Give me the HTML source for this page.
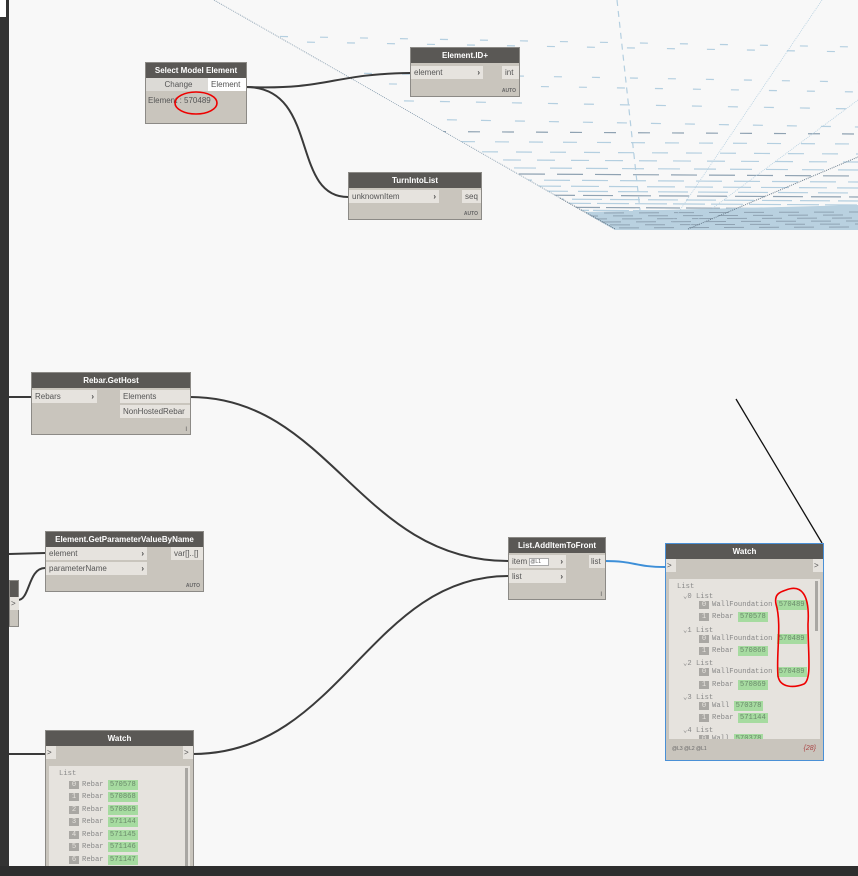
<!DOCTYPE html>
<html><head><meta charset="utf-8">
<style>
*{margin:0;padding:0;box-sizing:border-box}
body{width:858px;height:876px;overflow:hidden;background:#f8f8f8;position:relative;font-family:"Liberation Sans",sans-serif;font-size:8px;color:#555}
.n{position:absolute;background:#c9c5bd;border:1px solid #8c8a86}
.h{background:#5a5855;color:#fff;font-weight:bold;text-align:center;height:15px;line-height:15px;font-size:8px}
.p{position:absolute;background:#e6e3de;height:13px;line-height:13px;padding-left:3px;color:#555;font-size:8px}
.ar{position:absolute;right:3px;top:0;font-weight:bold;color:#444}
.auto{position:absolute;right:3px;bottom:2px;font-size:5px;color:#666;font-weight:bold}
.mono{font-family:"Liberation Mono",monospace;font-size:7.2px;color:#888;position:absolute;white-space:nowrap}
.ix{display:inline-block;background:#a9a7a3;color:#e6e3de;width:10px;text-align:center;margin-right:3px}
.v{display:inline-block;background:#a6dba0;color:#6a8a6a;padding:0 2px;line-height:10px}
</style></head><body>
<svg width="858" height="876" style="position:absolute;left:0;top:0">
<defs><clipPath id="c"><polygon points="214,0 858,0 858,230 615,230"/></clipPath></defs>
<g id="mesh" clip-path="url(#c)"></g>
<line x1="214" y1="0" x2="560" y2="198" stroke="#7d95a8" stroke-width="0.8" stroke-dasharray="1,1"/>
<line x1="560" y1="198" x2="615" y2="229" stroke="#5d7080" stroke-width="1" stroke-dasharray="1,1"/>
<line x1="688" y1="229" x2="858" y2="157" stroke="#6a7d8d" stroke-width="1" stroke-dasharray="1,1"/>
<g fill="none" stroke="#3a3a3a" stroke-width="2">
<path d="M246,87 C330,90 330,74 410,73"/>
<path d="M246,87 C320,87 290,197 348,197"/>
<path d="M190,397 C330,397 360,561 508,561"/>
<path d="M193,754 C340,754 370,576 508,576"/>
<path d="M9,397 L31,397"/>
<path d="M9,554 L45,553"/>
<path d="M18,600 C30,600 28,568 45,568"/>
<path d="M9,754 L45,754"/>
</g>
<path d="M605,561 C635,561 635,567 665,567" fill="none" stroke="#3d8fd8" stroke-width="2"/>
<line x1="736" y1="399" x2="822" y2="543" stroke="#111" stroke-width="1.3"/>
</svg>
<script>
(function(){var g=document.getElementById('mesh'),s='';
var rows=[[35,8,32,'#b4cfe0'],[40,8,32,'#b4cfe0'],[70,8,30,'#b4cfe0'],[80,8,30,'#b4cfe0'],[97,10,26,'#b4cfe0'],[115,10,24,'#b4cfe0'],[130,12,22,'#8fa2b2'],[140,14,20,'#b4cfe0'],[150,16,18,'#b4cfe0'],[158,18,16,'#b4cfe0'],[166,22,14,'#b4cfe0'],[172,26,12,'#8fa2b2'],[178,26,12,'#b4cfe0'],[184,28,10,'#b4cfe0'],[189,30,10,'#b4cfe0'],[193,30,8,'#8fa2b2'],[197,30,8,'#b4cfe0'],[201,32,6,'#b4cfe0'],[205,34,6,'#8fa2b2'],[208,36,4,'#b4cfe0']];
rows.forEach(function(r,i){var off=(i*13)%40;s+='<line x1="'+(200-off)+'" y1="'+r[0]+'" x2="858" y2="'+(r[0]+(r[0]<120?12:4))+'" stroke="'+r[3]+'" stroke-width="1.2" stroke-dasharray="'+r[1]+','+r[2]+'"/>';});
s+='<polygon points="585,212 858,205 858,230 600,230" fill="#b9d1e0"/>';
for(var y=213;y<230;y+=3){s+='<line x1="590" y1="'+y+'" x2="858" y2="'+(y-1)+'" stroke="#8fa2b2" stroke-width="1" stroke-dasharray="20,15" stroke-dashoffset="'+(y*7%30)+'"/>';}
s+='<line x1="617" y1="0" x2="640" y2="210" stroke="#b4cfe0" stroke-width="1.2" stroke-dasharray="6,5"/>';
s+='<line x1="822" y1="0" x2="670" y2="225" stroke="#b4cfe0" stroke-width="0.8" stroke-dasharray="1,1"/>';
s+='<line x1="858" y1="100" x2="690" y2="225" stroke="#b4cfe0" stroke-width="0.8" stroke-dasharray="1,1"/>';
g.innerHTML=s;})();
</script>
<div style="position:absolute;left:0;top:0;width:9px;height:866px;background:#333"></div>
<div style="position:absolute;left:0;top:0;width:6px;height:17px;background:#fff"></div>

<div class="n" style="left:145px;top:62px;width:102px;height:62px">
<div class="h">Select Model Element</div>
<div class="p" style="left:0;top:15px;width:62px;background:#dcdad6;text-align:center">Change</div>
<div class="p" style="left:62px;top:15px;width:38px;background:#fff">Element</div>
<div style="position:absolute;left:2px;top:33px;color:#555">Element : 570489</div>
<svg width="50" height="30" style="position:absolute;left:26px;top:25px"><ellipse cx="24" cy="15" rx="21" ry="11" fill="none" stroke="#e00" stroke-width="1.6"/></svg>
</div>

<div class="n" style="left:410px;top:47px;width:110px;height:50px">
<div class="h">Element.ID+</div>
<div class="p" style="left:0;top:18px;width:72px">element<span class="ar">›</span></div>
<div class="p" style="left:91px;top:18px;width:17px">int</div>
<div class="auto">AUTO</div>
</div>

<div class="n" style="left:348px;top:172px;width:134px;height:48px">
<div class="h">TurnIntoList</div>
<div class="p" style="left:0;top:17px;width:90px">unknownItem<span class="ar">›</span></div>
<div class="p" style="left:113px;top:17px;width:19px">seq</div>
<div class="auto">AUTO</div>
</div>

<div class="n" style="left:31px;top:372px;width:160px;height:63px">
<div class="h">Rebar.GetHost</div>
<div class="p" style="left:0;top:17px;width:65px">Rebars<span class="ar">›</span></div>
<div class="p" style="left:88px;top:17px;width:70px">Elements</div>
<div class="p" style="left:88px;top:32px;width:70px">NonHostedRebar</div>
<div style="position:absolute;right:3px;bottom:1px;font-size:6px">I</div>
</div>

<div class="n" style="left:45px;top:531px;width:159px;height:61px">
<div class="h">Element.GetParameterValueByName</div>
<div class="p" style="left:0;top:15px;width:101px">element<span class="ar">›</span></div>
<div class="p" style="left:0;top:30px;width:101px">parameterName<span class="ar">›</span></div>
<div class="p" style="left:125px;top:15px;width:32px">var[]..[]</div>
<div class="auto">AUTO</div>
</div>

<div class="n" style="left:9px;top:580px;width:10px;height:47px">
<div class="h" style="height:16px"></div>
<div class="p" style="left:0;top:16px;width:9px;padding-left:1px">&gt;</div>
</div>

<div class="n" style="left:508px;top:537px;width:98px;height:63px">
<div class="h">List.AddItemToFront</div>
<div class="p" style="left:0;top:17px;width:57px">item <span style="display:inline-block;width:20px;height:8px;background:#fff;border:1px solid #aaa;font-size:5px;line-height:6px;vertical-align:middle">@L1</span><span class="ar">›</span></div>
<div class="p" style="left:0;top:32px;width:57px">list<span class="ar">›</span></div>
<div class="p" style="left:80px;top:17px;width:16px;padding-left:2px">list</div>
<div style="position:absolute;right:3px;bottom:1px;font-size:6px">I</div>
</div>

<div class="n" style="left:665px;top:543px;width:159px;height:218px;border:1px solid #4a90d6">
<div class="h">Watch</div>
<div class="p" style="left:0;top:15px;width:10px;padding-left:1px">&gt;</div>
<div class="p" style="left:147px;top:15px;width:10px;padding-left:1px">&gt;</div>
<div style="position:absolute;left:3px;top:35px;width:151px;height:160px;background:#e6e3de;overflow:hidden">
<div style="position:absolute;right:2px;top:2px;width:3px;height:50px;background:#a9a7a3"></div>
<div class="mono" style="left:8px;top:4px">List</div>
<div class="mono" style="left:14px;top:12px">⌄0 List</div>
<div class="mono" style="left:30px;top:21px"><span class="ix">0</span>WallFoundation <span class="v">570489</span></div>
<div class="mono" style="left:30px;top:33px"><span class="ix">1</span>Rebar <span class="v">570578</span></div>
<div class="mono" style="left:14px;top:46px">⌄1 List</div>
<div class="mono" style="left:30px;top:55px"><span class="ix">0</span>WallFoundation <span class="v">570489</span></div>
<div class="mono" style="left:30px;top:67px"><span class="ix">1</span>Rebar <span class="v">570868</span></div>
<div class="mono" style="left:14px;top:79px">⌄2 List</div>
<div class="mono" style="left:30px;top:88px"><span class="ix">0</span>WallFoundation <span class="v">570489</span></div>
<div class="mono" style="left:30px;top:101px"><span class="ix">1</span>Rebar <span class="v">570869</span></div>
<div class="mono" style="left:14px;top:113px">⌄3 List</div>
<div class="mono" style="left:30px;top:122px"><span class="ix">0</span>Wall <span class="v">570378</span></div>
<div class="mono" style="left:30px;top:134px"><span class="ix">1</span>Rebar <span class="v">571144</span></div>
<div class="mono" style="left:14px;top:146px">⌄4 List</div>
<div class="mono" style="left:30px;top:155px"><span class="ix">0</span>Wall <span class="v">570378</span></div>
</div>
<svg width="50" height="110" style="position:absolute;left:100px;top:40px"><path d="M20,6 C35,0 44,10 42,40 C42,70 46,95 38,100 C28,104 14,104 12,92 C10,70 16,40 10,20 C8,10 14,8 20,6Z" fill="none" stroke="#e00" stroke-width="1.6"/></svg>
<div style="position:absolute;left:3px;top:198px;width:151px;height:14px;background:#c9c5bd;font-size:5px;line-height:14px;padding-left:3px;color:#666">@L3 @L2 @L1<span style="position:absolute;right:4px;font-size:7px;color:#a44;font-style:italic">{28}</span></div>
</div>

<div class="n" style="left:45px;top:730px;width:149px;height:140px">
<div class="h">Watch</div>
<div class="p" style="left:0;top:15px;width:10px;padding-left:1px">&gt;</div>
<div class="p" style="left:137px;top:15px;width:10px;padding-left:1px">&gt;</div>
<div style="position:absolute;left:3px;top:35px;width:141px;height:110px;background:#e6e3de">
<div style="position:absolute;right:2px;top:2px;width:3px;height:108px;background:#a9a7a3"></div>
<div class="mono" style="left:10px;top:4px">List</div>
<div class="mono" style="left:20px;top:14px"><span class="ix">0</span>Rebar <span class="v">570578</span></div>
<div class="mono" style="left:20px;top:26px"><span class="ix">1</span>Rebar <span class="v">570868</span></div>
<div class="mono" style="left:20px;top:39px"><span class="ix">2</span>Rebar <span class="v">570869</span></div>
<div class="mono" style="left:20px;top:51px"><span class="ix">3</span>Rebar <span class="v">571144</span></div>
<div class="mono" style="left:20px;top:64px"><span class="ix">4</span>Rebar <span class="v">571145</span></div>
<div class="mono" style="left:20px;top:76px"><span class="ix">5</span>Rebar <span class="v">571146</span></div>
<div class="mono" style="left:20px;top:89px"><span class="ix">6</span>Rebar <span class="v">571147</span></div>
</div>
</div>
<div style="position:absolute;left:0;top:866px;width:858px;height:10px;background:#2e2e2e"></div>
</body></html>
